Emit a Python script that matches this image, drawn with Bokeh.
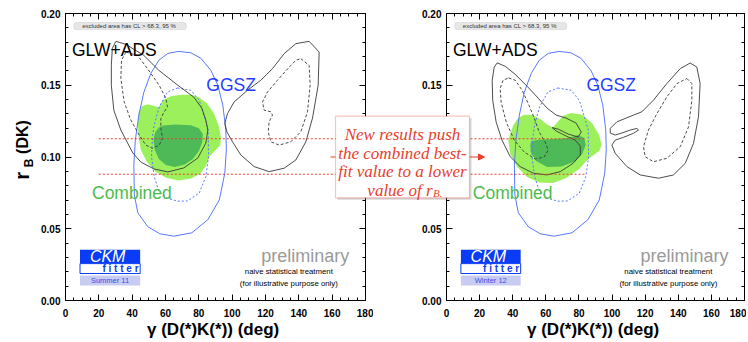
import math
from bokeh.plotting import figure
from bokeh.models import (LinearAxis, SingleIntervalTicker, PrintfTickFormatter,
                          Label, BoxAnnotation, Arrow, NormalHead, Range1d)
from bokeh.layouts import row
from bokeh.embed import file_html
from bokeh.resources import INLINE

# ---------------- data (gamma in deg, r_B) ----------------
# GGSZ (same in both panels)
ggsz95_g = [68.0, 75.2, 81.2, 87.2, 91.4, 94.4, 96.2, 96.5, 95.6, 92.3, 85.4, 75.8, 65.0, 56.6, 49.4, 43.4, 41.3, 41.0, 41.9, 44.0, 47.0, 51.2, 56.0, 61.4]
ggsz95_r = [0.1736, 0.1726, 0.1688, 0.1604, 0.150, 0.1361, 0.1188, 0.1049, 0.0889, 0.0701, 0.0563, 0.0472, 0.0448, 0.0465, 0.0514, 0.0611, 0.0736, 0.0944, 0.1118, 0.1292, 0.1451, 0.1583, 0.1674, 0.1722]
ggsz68_g = [67.2, 75.2, 80.2, 84.2, 85.6, 85.8, 84.2, 80.2, 73.2, 67.2, 61.2, 56.2, 53.2, 51.6, 52.2, 53.2, 56.2, 61.2]
ggsz68_r = [0.1481, 0.1465, 0.1396, 0.1245, 0.1188, 0.1002, 0.0863, 0.0748, 0.0694, 0.0692, 0.0713, 0.0759, 0.0863, 0.1002, 0.1141, 0.1222, 0.1349, 0.1453]

# Summer 11: GLW+ADS
s11_glw95a_g = [30.2, 36.2, 47.0, 56.0, 67.4, 77.0, 81.8, 84.2, 85.4, 84.2, 79.4, 71.0, 61.4, 53.0, 45.2, 40.4, 33.2, 29.0, 27.5, 27.5, 28.1]
s11_glw95a_r = [0.1806, 0.1785, 0.1708, 0.1604, 0.150, 0.1417, 0.134, 0.1257, 0.1188, 0.1097, 0.0993, 0.0924, 0.0896, 0.0917, 0.0965, 0.1028, 0.1188, 0.1326, 0.150, 0.1639, 0.1757]
s11_glw95b_g = [146.2, 152.2, 151.6, 148.2, 144.2, 138.2, 131.2, 122.2, 113.2, 105.2, 100.2, 96.8, 95.6, 97.2, 101.2, 109.2, 117.2, 124.2, 131.2, 138.2]
s11_glw95b_r = [0.1806, 0.1731, 0.150, 0.1271, 0.1106, 0.0979, 0.0922, 0.0898, 0.0933, 0.1014, 0.1106, 0.1176, 0.1234, 0.1303, 0.1384, 0.1465, 0.1535, 0.1616, 0.172, 0.179]
s11_glw68a_g = [36.2, 43.2, 49.2, 56.2, 60.2, 61.2, 59.2, 57.2, 57.2, 58.2, 56.2, 52.2, 48.2, 44.2, 39.2, 35.2, 33.2, 33.6]
s11_glw68a_r = [0.1731, 0.1708, 0.1616, 0.150, 0.1408, 0.1349, 0.1315, 0.1269, 0.1199, 0.113, 0.1083, 0.106, 0.1083, 0.1153, 0.1257, 0.1384, 0.1547, 0.1674]
s11_glw68b_g = [141.2, 146.2, 146.8, 145.2, 141.2, 135.2, 128.2, 123.2, 121.6, 122.2, 124.2, 123.2, 119.2, 118.2, 121.2, 127.2, 134.2, 138.2]
s11_glw68b_r = [0.1685, 0.1639, 0.150, 0.1315, 0.1176, 0.1106, 0.1083, 0.1106, 0.1176, 0.1245, 0.1292, 0.1315, 0.1326, 0.1384, 0.1453, 0.1535, 0.1626, 0.1674]
# Summer 11: combined
s11_cmb95_g = [44.0, 45.8, 49.4, 53.6, 56.0, 58.4, 63.2, 69.2, 75.2, 80.0, 84.8, 89.0, 92.0, 93.2, 92.9, 89.6, 86.6, 84.2, 80.6, 75.2, 68.0, 60.8, 54.2, 48.8, 45.2, 43.7, 43.4]
s11_cmb95_r = [0.1313, 0.1354, 0.1368, 0.1354, 0.1347, 0.1396, 0.1424, 0.1434, 0.1434, 0.1417, 0.1375, 0.1306, 0.1215, 0.1139, 0.1083, 0.1042, 0.1007, 0.0938, 0.0882, 0.0851, 0.0837, 0.0854, 0.0896, 0.0965, 0.1049, 0.1153, 0.1243]
s11_cmb68_g = [58.4, 66.2, 75.2, 80.0, 82.4, 82.1, 80.0, 76.4, 71.6, 65.6, 60.2, 56.0, 53.6, 52.7, 53.9, 56.0]
s11_cmb68_r = [0.1219, 0.1226, 0.1222, 0.1201, 0.116, 0.1104, 0.1042, 0.0986, 0.0948, 0.0931, 0.0944, 0.0986, 0.1049, 0.1118, 0.1174, 0.1205]

# Winter 12: GLW+ADS
w12_glw95a_g = [30.6, 35.5, 41.5, 48.7, 55.4, 60.8, 66.3, 72.3, 78.3, 81.4, 79.5, 73.5, 67.5, 63.8, 66.3, 72.3, 77.7, 80.8, 80.8, 76.5, 68.7, 60.6, 52.5, 44.5, 38.5, 33.5, 30.0, 27.9, 27.6, 28.8]
w12_glw95a_r = [0.1656, 0.1632, 0.1576, 0.1493, 0.141, 0.134, 0.1292, 0.1271, 0.1236, 0.1174, 0.1139, 0.116, 0.1194, 0.1205, 0.1181, 0.1146, 0.1118, 0.1076, 0.1014, 0.0956, 0.0898, 0.0875, 0.0887, 0.0933, 0.1002, 0.1118, 0.1243, 0.1396, 0.1535, 0.1625]
w12_glw95b_g = [147.2, 151.2, 153.2, 152.2, 149.2, 144.2, 137.1, 128.1, 117.0, 109.0, 101.9, 99.9, 101.9, 106.9, 112.9, 116.0, 115.0, 111.0, 105.9, 101.9, 98.9, 98.9, 102.9, 113.0, 118.0, 125.0, 133.1, 141.2]
w12_glw95b_r = [0.1655, 0.1627, 0.1512, 0.128, 0.1095, 0.0956, 0.0875, 0.0852, 0.0875, 0.0933, 0.1026, 0.1083, 0.1118, 0.1137, 0.1165, 0.1188, 0.1199, 0.1188, 0.1167, 0.1153, 0.1167, 0.1199, 0.1245, 0.1292, 0.1315, 0.1396, 0.1512, 0.1616]
w12_glw68a_g = [37.5, 41.5, 45.7, 49.3, 53.0, 56.0, 59.6, 61.4, 59.0, 53.6, 46.9, 40.9, 36.1, 33.0, 32.4, 34.2]
w12_glw68a_r = [0.1551, 0.1535, 0.1465, 0.1375, 0.1271, 0.1174, 0.1104, 0.1049, 0.1, 0.0986, 0.1035, 0.1118, 0.1243, 0.1382, 0.1479, 0.1535]
w12_glw68b_g = [145.2, 148.2, 148.2, 146.2, 141.2, 133.1, 125.0, 120.0, 119.0, 122.0, 127.1, 133.1, 139.2]
w12_glw68b_r = [0.1547, 0.1512, 0.1396, 0.121, 0.1072, 0.0991, 0.0967, 0.1002, 0.1072, 0.1188, 0.1303, 0.1419, 0.1512]
# Winter 12: combined
w12_cmb95_g = [40.3, 43.3, 46.9, 51.8, 56.6, 61.4, 64.4, 67.5, 70.5, 75.3, 82.0, 88.0, 92.2, 93.7, 92.2, 88.0, 84.4, 80.2, 72.3, 64.4, 56.0, 48.7, 42.7, 38.5, 37.3]
w12_cmb95_r = [0.1222, 0.1271, 0.1295, 0.1292, 0.1264, 0.1222, 0.1208, 0.125, 0.1288, 0.1306, 0.1295, 0.1236, 0.1153, 0.1083, 0.1042, 0.1007, 0.0972, 0.0917, 0.0854, 0.0819, 0.0823, 0.0861, 0.0931, 0.1021, 0.1118]
w12_cmb68_g = [51.2, 56.6, 65.6, 73.5, 79.5, 83.2, 84.1, 82.0, 77.7, 69.3, 60.8, 54.2, 50.9, 50.6]
w12_cmb68_r = [0.1111, 0.1122, 0.1125, 0.1132, 0.1153, 0.1132, 0.1083, 0.1021, 0.0969, 0.0934, 0.0931, 0.0972, 0.1035, 0.1083]

# red reference lines (r_B values) and their gamma extents
ref_r = [0.1127, 0.0880]
ref_g_left = [20, 180]
ref_g_right = [0, 84.5]

tags = ["Summer 11", "Winter 12"]
x_title = "\u03b3  (D(*)K(*)) (deg)"
callout_lines = ["New results push", "the combined best-", "fit value to a lower", "value of r"]

FONT = "Liberation Sans"
SERIF = "Liberation Serif"
RED = "#e8402d"
LIGHT_G = "#9cf05c"
DARK_G = "#4dba57"
BLUE_L = "#5a78ff"
BLUE_T = "#1f3dff"
GREEN_T = "#4cbc4c"
BLK = "#3a3a3a"
LOGO_B = "#0a3cf5"

TOP = 13      # frame top (px)
FH = 288      # frame height
BOT = 40      # space below frame
H = TOP + FH + BOT


def style_axis(ax, labels):
    ax.axis_line_color = "black"
    ax.axis_line_width = 1
    ax.major_tick_in = 6
    ax.major_tick_out = 0
    ax.minor_tick_in = 3
    ax.minor_tick_out = 0
    ax.major_tick_line_color = "black"
    ax.minor_tick_line_color = "black"
    ax.major_label_text_font = FONT
    ax.major_label_text_font_style = "bold"
    if labels:
        ax.major_label_text_color = "black"
        ax.major_label_text_font_size = "10px"
    else:
        ax.major_label_text_color = None
        ax.major_label_text_font_size = "0px"
        ax.major_label_standoff = 0


def make_panel(glw95, glw68, cmb95, cmb68, ref_g, tag, left_border, right_border, frame_w):
    p = figure(width=left_border + frame_w + right_border, height=H,
               x_range=Range1d(0, 180), y_range=Range1d(0, 0.2),
               output_backend="svg", toolbar_location=None,
               min_border_left=left_border, min_border_right=right_border,
               min_border_top=TOP, min_border_bottom=BOT)
    p.outline_line_color = None
    p.xgrid.visible = False
    p.ygrid.visible = False
    p.background_fill_color = "white"
    p.border_fill_color = "white"

    p.xaxis.ticker = SingleIntervalTicker(interval=20, num_minor_ticks=4)
    p.yaxis.ticker = SingleIntervalTicker(interval=0.05, num_minor_ticks=5)
    p.yaxis.formatter = PrintfTickFormatter(format="%.2f")
    style_axis(p.xaxis[0], True)
    style_axis(p.yaxis[0], True)
    p.xaxis.major_label_standoff = 8
    p.yaxis.major_label_standoff = 5
    p.xaxis.axis_label = x_title
    p.xaxis.axis_label_text_font = FONT
    p.xaxis.axis_label_text_font_style = "bold"
    p.xaxis.axis_label_text_font_size = "17px"
    p.xaxis.axis_label_text_color = "black"
    p.xaxis.axis_label_standoff = 0
    top = LinearAxis(ticker=SingleIntervalTicker(interval=20, num_minor_ticks=4))
    right = LinearAxis(ticker=SingleIntervalTicker(interval=0.05, num_minor_ticks=5))
    style_axis(top, False)
    style_axis(right, False)
    p.add_layout(top, "above")
    p.add_layout(right, "right")

    # filled combined regions
    p.patch(cmb95[0], cmb95[1], fill_color=LIGHT_G, line_color=None)
    p.patch(cmb68[0], cmb68[1], fill_color=DARK_G, line_color=None)
    # GGSZ
    p.patch(ggsz95_g, ggsz95_r, fill_color=None, line_color=BLUE_L, line_width=1)
    p.patch(ggsz68_g, ggsz68_r, fill_color=None, line_color=BLUE_L, line_width=1, line_dash="2 2")
    # GLW+ADS
    for g, r in glw95:
        p.patch(g, r, fill_color=None, line_color=BLK, line_width=0.9)
    for g, r in glw68:
        p.patch(g, r, fill_color=None, line_color=BLK, line_width=0.9, line_dash="3 2")
    # red dotted lines
    for rv in ref_r:
        p.line(ref_g, [rv, rv], line_color=RED, line_width=1, line_dash="2 2")

    # excluded-area box
    p.add_layout(BoxAnnotation(left=5.0, right=72.5, bottom=0.1888, top=0.1937,
                               fill_color="#e6e6e6", fill_alpha=1, line_color="#a0a0a0",
                               line_width=0.7, border_radius=2))
    p.add_layout(Label(x=38.7, y=0.1912, text="excluded area has CL  > 68.3, 95 %",
                       text_font=FONT, text_font_size="6px", text_color="#333333",
                       text_align="center", text_baseline="middle"))

    # texts
    p.add_layout(Label(x=3.9, y=0.1743, text="GLW+ADS", text_font=FONT, text_font_size="17.5px",
                       text_color="black", text_baseline="middle"))
    p.add_layout(Label(x=84.5, y=0.1503, text="GGSZ", text_font=FONT, text_font_size="17.5px",
                       text_color=BLUE_T, text_baseline="middle"))
    p.add_layout(Label(x=15.9, y=0.0747, text="Combined", text_font=FONT, text_font_size="17.5px",
                       text_color=GREEN_T, text_baseline="middle"))
    p.add_layout(Label(x=170.3, y=0.0312, text="preliminary", text_font=FONT, text_font_size="18px",
                       text_color="#9a9a9a", text_align="right", text_baseline="middle"))
    p.add_layout(Label(x=134.0, y=0.0201, text="naive statistical treatment", text_font=FONT,
                       text_font_size="7.8px", text_color="black", text_align="center", text_baseline="middle"))
    p.add_layout(Label(x=134.0, y=0.0118, text="(for illustrative purpose only)", text_font=FONT,
                       text_font_size="7.8px", text_color="black", text_align="center", text_baseline="middle"))

    # CKM fitter logo
    p.quad(left=[8.7], right=[44.8], top=[0.0354], bottom=[0.0257], fill_color=LOGO_B, line_color=None)
    p.quad(left=[8.7], right=[44.8], top=[0.0257], bottom=[0.0188], fill_color="white",
           line_color=LOGO_B, line_width=1)
    p.quad(left=[8.7], right=[44.8], top=[0.0174], bottom=[0.0104], fill_color="#c8ccf2", line_color=None)
    p.add_layout(Label(x=25.3, y=0.0306, text="CKM", text_font=FONT, text_font_style="italic",
                       text_font_size="16px", text_color="white", text_align="center", text_baseline="middle"))
    p.add_layout(Label(x=33.0, y=0.0222, text="f i t t e r", text_font=FONT, text_font_style="bold",
                       text_font_size="10px", text_color=LOGO_B, text_align="center", text_baseline="middle"))
    p.add_layout(Label(x=26.7, y=0.0139, text=tag, text_font=FONT,
                       text_font_size="7.5px", text_color="#3a4ee8", text_align="center", text_baseline="middle"))
    return p


p1 = make_panel([(s11_glw95a_g, s11_glw95a_r), (s11_glw95b_g, s11_glw95b_r)],
                [(s11_glw68a_g, s11_glw68a_r), (s11_glw68b_g, s11_glw68b_r)],
                (s11_cmb95_g, s11_cmb95_r), (s11_cmb68_g, s11_cmb68_r),
                ref_g_left, tags[0], 65, 8, 300)
p2 = make_panel([(w12_glw95a_g, w12_glw95a_r), (w12_glw95b_g, w12_glw95b_r)],
                [(w12_glw68a_g, w12_glw68a_r), (w12_glw68b_g, w12_glw68b_r)],
                (w12_cmb95_g, w12_cmb95_r), (w12_cmb68_g, w12_cmb68_r),
                ref_g_right, tags[1], 73, 2, 298)

# ---- transparent overlay (page pixel coordinates) for y title and the callout ----
W_ALL = p1.width + p2.width
ov = figure(width=W_ALL, height=H, x_range=Range1d(0, W_ALL), y_range=Range1d(TOP + FH, TOP),
            output_backend="svg", toolbar_location=None,
            x_axis_location=None, y_axis_location=None,
            min_border_left=0, min_border_right=0, min_border_top=TOP, min_border_bottom=BOT)
ov.grid.visible = False
ov.outline_line_color = None
ov.background_fill_color = None
ov.border_fill_color = None
ov.margin = (0, 0, 0, -W_ALL)

ov.add_layout(Label(x=21, y=176, text="r", text_font=FONT, text_font_style="bold",
                    text_font_size="20px", text_color="black", angle=math.pi / 2,
                    text_align="center", text_baseline="middle"))
ov.add_layout(Label(x=28, y=163, text="B", text_font=FONT, text_font_style="bold",
                    text_font_size="12px", text_color="black", angle=math.pi / 2,
                    text_align="center", text_baseline="middle"))
ov.add_layout(Label(x=22, y=137, text="(DK)", text_font=FONT, text_font_style="bold",
                    text_font_size="16px", text_color="black", angle=math.pi / 2,
                    text_align="center", text_baseline="middle"))

# callout
ov.add_layout(Arrow(end=NormalHead(size=6, fill_color=RED, line_color=RED),
                    x_start=330, y_start=157, x_end=484, y_end=157,
                    line_color=RED, line_width=1.2))
ov.add_layout(BoxAnnotation(left=337, right=471, top=118, bottom=200,
                            fill_color="#777777", fill_alpha=0.3, line_color=None))
ov.add_layout(BoxAnnotation(left=335, right=469, top=116, bottom=198,
                            fill_color="white", fill_alpha=1, line_color=RED, line_width=1.2))
for i, t in enumerate(callout_lines[:3]):
    ov.add_layout(Label(x=402, y=134 + 19 * i, text=t, text_font=SERIF,
                        text_font_style="italic", text_font_size="17px", text_color=RED,
                        text_align="center", text_baseline="alphabetic"))
ov.add_layout(Label(x=432, y=191, text=callout_lines[3], text_font=SERIF,
                    text_font_style="italic", text_font_size="17px", text_color=RED,
                    text_align="right", text_baseline="alphabetic"))
ov.add_layout(Label(x=432.5, y=193.5, text="B.", text_font=SERIF,
                    text_font_style="italic", text_font_size="11px", text_color=RED,
                    text_align="left", text_baseline="alphabetic"))

layout = row(p1, p2, ov)
open("out.html", "w").write(file_html(layout, INLINE))
